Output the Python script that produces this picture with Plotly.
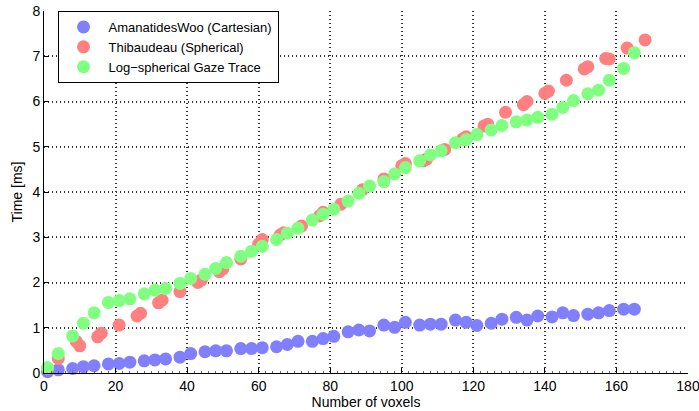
import plotly.graph_objects as go

# Number of voxels (AmanatidesWoo and Log-spherical share the same x grid)
x_common = [1, 4, 8, 11, 14, 18, 21, 24, 28, 31, 34, 38, 41, 45, 48, 51, 55, 58, 61, 65,
            68, 71, 75, 78, 81, 85, 88, 91, 95, 98, 101, 105, 108, 111, 115, 118, 121, 125,
            128, 132, 135, 138, 142, 145, 148, 152, 155, 158, 162, 165]

amanatides_y = [0.03, 0.07, 0.10, 0.14, 0.16, 0.20, 0.21, 0.24, 0.27, 0.29, 0.31, 0.35, 0.43,
                0.47, 0.49, 0.49, 0.54, 0.54, 0.56, 0.58, 0.63, 0.70, 0.70, 0.76, 0.81, 0.91,
                0.95, 0.93, 1.06, 1.01, 1.12, 1.06, 1.08, 1.08, 1.17, 1.12, 1.05, 1.10, 1.19,
                1.23, 1.17, 1.26, 1.24, 1.33, 1.27, 1.30, 1.33, 1.38, 1.41, 1.41]

logsph_y = [0.12, 0.43, 0.82, 1.10, 1.33, 1.56, 1.60, 1.64, 1.75, 1.83, 1.87, 1.98, 2.09,
            2.18, 2.31, 2.44, 2.58, 2.69, 2.80, 2.95, 3.09, 3.20, 3.38, 3.51, 3.62, 3.80,
            3.97, 4.13, 4.23, 4.40, 4.54, 4.69, 4.82, 4.91, 5.09, 5.16, 5.27, 5.37, 5.47,
            5.55, 5.59, 5.65, 5.72, 5.87, 6.02, 6.17, 6.25, 6.47, 6.73, 7.08]

thib_x = [1, 4, 9, 10, 15, 16, 21, 26, 27, 32, 33, 38, 43, 44, 49, 50, 55, 60, 61, 66, 67,
          72, 77, 78, 83, 89, 95, 100, 101, 106, 107, 112, 117, 118, 123, 124, 129, 134, 135,
          140, 141, 146, 151, 152, 157, 158, 163, 168]
thib_y = [0.10, 0.32, 0.70, 0.60, 0.80, 0.88, 1.06, 1.26, 1.32, 1.55, 1.61, 1.80, 2.00, 2.06,
          2.24, 2.30, 2.52, 2.85, 2.95, 3.05, 3.10, 3.25, 3.47, 3.55, 3.73, 4.05, 4.29, 4.58,
          4.63, 4.69, 4.73, 4.94, 5.17, 5.22, 5.46, 5.50, 5.76, 5.93, 6.00, 6.18, 6.23, 6.47,
          6.72, 6.77, 6.95, 6.94, 7.18, 7.36]

x_ticks = [0, 20, 40, 60, 80, 100, 120, 140, 160, 180]
y_ticks = [0, 1, 2, 3, 4, 5, 6, 7, 8]

FONT = "Liberation Sans, Arial, Helvetica, sans-serif"
FS = 14
LFS = 13
MS = 13

fig = go.Figure()
fig.add_trace(go.Scatter(x=x_common, y=amanatides_y, mode="markers",
                         name="AmanatidesWoo (Cartesian)", cliponaxis=False,
                         marker=dict(size=MS, color="#8080FF", line=dict(width=0))))
fig.add_trace(go.Scatter(x=thib_x, y=thib_y, mode="markers",
                         name="Thibaudeau (Spherical)", cliponaxis=False,
                         marker=dict(size=MS, color="#FF8080", line=dict(width=0))))
fig.add_trace(go.Scatter(x=x_common, y=logsph_y, mode="markers",
                         name="Log\u2212spherical Gaze Trace", cliponaxis=False,
                         marker=dict(size=MS, color="#80FF80", line=dict(width=0))))

axis_common = dict(
    showline=True, linecolor="black", linewidth=1, mirror=False,
    ticks="inside", ticklen=5, tickcolor="black", tickwidth=1,
    showgrid=True, gridcolor="#333333", griddash="1px,3px", gridwidth=1.5,
    zeroline=False, automargin=False, ticklabeloverflow="allow",
    tickfont=dict(family=FONT, size=FS, color="black"),
)

fig.update_layout(
    width=699, height=411,
    margin=dict(l=44, r=11, t=11, b=38),
    paper_bgcolor="white", plot_bgcolor="white",
    font=dict(family=FONT, size=FS, color="black"),
    xaxis=dict(range=[0, 180], tickvals=x_ticks,
               title=dict(text="Number of voxels", standoff=0, font=dict(family=FONT, size=FS)),
               minor=dict(ticks="inside", ticklen=2, dtick=2, tickcolor="#666666", showgrid=False),
               **axis_common),
    yaxis=dict(range=[0, 8], tickvals=y_ticks,
               title=dict(text="Time [ms]", standoff=6, font=dict(family=FONT, size=FS)),
               **axis_common),
    legend=dict(x=0.021, y=1, xanchor="left", yanchor="top",
                bordercolor="black", borderwidth=1, bgcolor="white",
                font=dict(family=FONT, size=LFS, color="black"),
                itemwidth=40, tracegroupgap=0),
    showlegend=True,
)

fig.write_html("out.html")
